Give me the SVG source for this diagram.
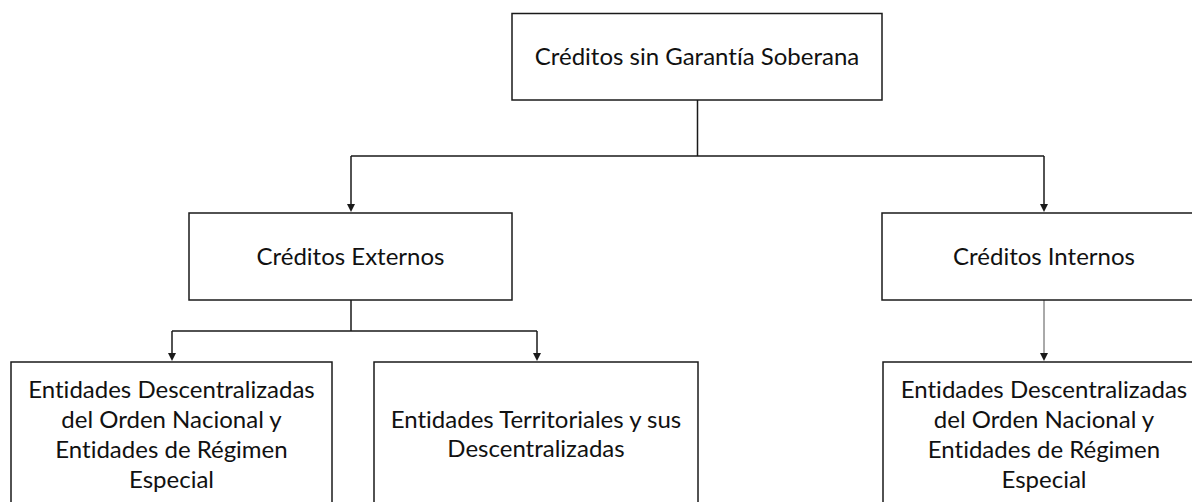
<svg xmlns="http://www.w3.org/2000/svg" width="1192" height="502" viewBox="0 0 1192 502">
<style>
.box{fill:#fff;stroke:#1a1a1a;stroke-width:1.5}
.t{font-family:Lato,"Open Sans","Liberation Sans",sans-serif;font-size:24px;fill:#111;text-anchor:middle;font-variant-ligatures:none;font-feature-settings:"liga" 0,"clig" 0,"dlig" 0}
.c{fill:none;stroke:#1a1a1a;stroke-width:1.5}
.thin{fill:none;stroke:#555;stroke-width:1}
.ah{fill:#1a1a1a}
</style>
<rect width="1192" height="502" fill="#fff"/>
<g id="connectors">
<path class="c" d="M697.5,100 V156 M351,156 H1044"/>
<path class="c" d="M351,156 V204"/>
<path class="ah" d="M347,204 L355,204 L351,212 Z"/>
<path class="c" d="M1044,156 V204"/>
<path class="ah" d="M1040,204 L1048,204 L1044,212 Z"/>
<path class="c" d="M351,300 V331 M172,331 H537"/>
<path class="c" d="M172,331 V353"/>
<path class="ah" d="M168,353 L176,353 L172,361 Z"/>
<path class="c" d="M537,331 V353"/>
<path class="ah" d="M533,353 L541,353 L537,361 Z"/>
<path class="thin" d="M1044,300 V353"/>
<path class="ah" d="M1040,353 L1048,353 L1044,361 Z"/>
</g>
<g id="n-root">
<rect class="box" x="512" y="13.5" width="370" height="86.5"/>
<text class="t" x="697" y="65">Créditos sin Garantía Soberana</text>
</g>
<g id="n-externos">
<rect class="box" x="189" y="213" width="323" height="87"/>
<text class="t" x="350.5" y="265">Créditos Externos</text>
</g>
<g id="n-internos">
<rect class="box" x="882" y="213" width="324" height="87"/>
<text class="t" x="1044" y="265">Créditos Internos</text>
</g>
<g id="n-ext-nacional">
<rect class="box" x="11" y="362" width="321" height="150"/>
<text class="t" x="171.5" y="398">Entidades Descentralizadas</text>
<text class="t" x="171.5" y="428">del Orden Nacional y</text>
<text class="t" x="171.5" y="458">Entidades de Régimen</text>
<text class="t" x="171.5" y="488">Especial</text>
</g>
<g id="n-ext-territoriales">
<rect class="box" x="374" y="362" width="324" height="150"/>
<text class="t" x="536" y="428">Entidades Territoriales y sus</text>
<text class="t" x="536" y="457">Descentralizadas</text>
</g>
<g id="n-int-nacional">
<rect class="box" x="883" y="362" width="322" height="150"/>
<text class="t" x="1044" y="398">Entidades Descentralizadas</text>
<text class="t" x="1044" y="428">del Orden Nacional y</text>
<text class="t" x="1044" y="458">Entidades de Régimen</text>
<text class="t" x="1044" y="488">Especial</text>
</g>
</svg>
